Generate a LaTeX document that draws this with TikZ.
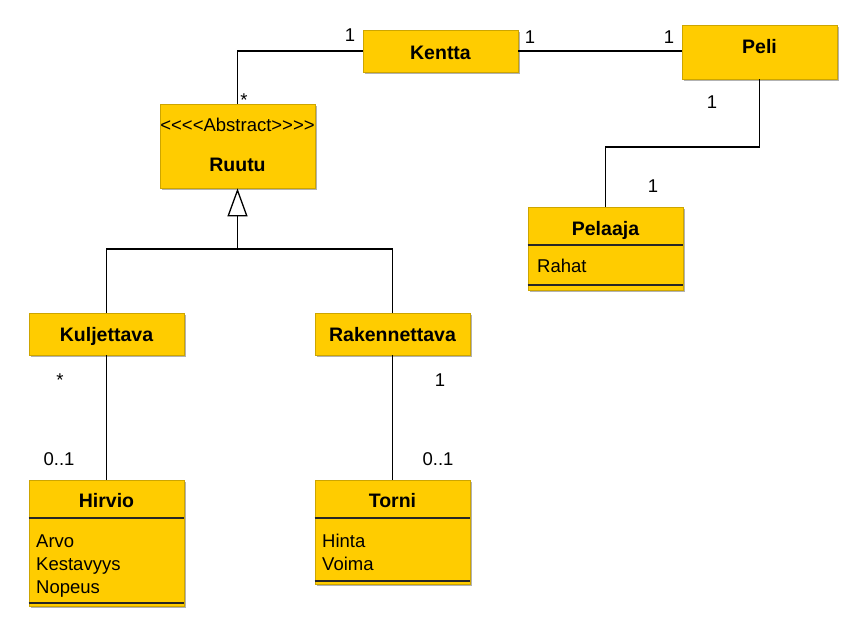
\documentclass[tikz,border=0pt]{standalone}
\usepackage{fontspec}
\setmainfont{Liberation Sans}
\usetikzlibrary{arrows.meta}
\definecolor{umlfill}{RGB}{255,204,0}
\definecolor{umledge}{RGB}{205,165,0}
\tikzset{
 box/.style={draw=umledge, line width=0.8pt, fill=umlfill, inner sep=0pt, minimum width=155pt,
   preaction={fill=black!30, transform canvas={xshift=2pt,yshift=-2pt}}},
 ttl/.style={anchor=base, inner sep=0pt, font=\fontsize{19.5}{23}\selectfont\bfseries},
 attr/.style={anchor=base west, inner sep=0pt, font=\fontsize{18.5}{22}\selectfont},
 mult/.style={anchor=base, inner sep=0pt, font=\fontsize{18.5}{22}\selectfont},
 conn/.style={line width=1.3pt, black},
 sep/.style={line width=1.3pt, black!85},
}
\begin{document}
\begin{tikzpicture}[x=1pt,y=-1pt]
\useasboundingbox (0,0) rectangle (849,616);
% boxes
\node[box, minimum height=42pt] (kentta) at (440.5,51) {};
\node[ttl] (kenttat) at (440.5,59) {Kentta};
\node[box, minimum height=54pt] (peli) at (759.5,52) {};
\node[ttl] (pelit) at (759.5,53) {Peli};
\node[box, minimum height=84pt] (ruutu) at (237.5,146) {};
\node[mult] (ruutuabs) at (237.5,131) {<{}<{}<{}<{}Abstract>{}>{}>{}>};
\node[ttl] (ruutut) at (237.5,171) {Ruutu};
\node[box, minimum height=42pt] (kuljettava) at (106.5,334) {};
\node[ttl] (kuljettavat) at (106.5,341) {Kuljettava};
\node[box, minimum height=42pt] (rakennettava) at (392.5,334) {};
\node[ttl] (rakennettavat) at (392.5,341) {Rakennettava};
\node[box, minimum height=83pt] (pelaaja) at (605.5,248.5) {};
\node[ttl] (pelaajat) at (605.5,235) {Pelaaja};
\draw[sep] (pelaaja.west |- 0,245) -- (pelaaja.east |- 0,245);
\node[attr] (rahat) at (537,272) {Rahat};
\draw[sep] (pelaaja.west |- 0,285) -- (pelaaja.east |- 0,285);
\node[box, minimum height=126pt] (hirvio) at (106.5,543) {};
\node[ttl] (hirviot) at (106.5,507) {Hirvio};
\draw[sep] (hirvio.west |- 0,518) -- (hirvio.east |- 0,518);
\node[attr] (arvo) at (36,547) {Arvo};
\node[attr] (kestavyys) at (36,570) {Kestavyys};
\node[attr] (nopeus) at (36,593) {Nopeus};
\draw[sep] (hirvio.west |- 0,603) -- (hirvio.east |- 0,603);
\node[box, minimum height=104pt] (torni) at (392.5,532) {};
\node[ttl] (tornit) at (392.5,507) {Torni};
\draw[sep] (torni.west |- 0,518) -- (torni.east |- 0,518);
\node[attr] (hinta) at (322,547) {Hinta};
\node[attr] (voima) at (322,570) {Voima};
\draw[sep] (torni.west |- 0,581) -- (torni.east |- 0,581);
% connectors
\draw[conn] (kentta.east) -- (peli.west |- kentta.east);
\draw[conn] (kentta.west) -| (ruutu.north);
\coordinate (pbend) at (605.5,147);
\draw[conn] (peli.south) |- (pbend) -- (pelaaja.north);
\coordinate (gen) at (237.5,249);
\draw[conn] (kuljettava.north) |- (gen) -| (rakennettava.north);
\draw[conn, -{Triangle[open, length=28pt, width=20pt, fill=white]}] (gen) -- (ruutu.south);
\draw[conn] (kuljettava.south) -- (hirvio.north);
\draw[conn] (rakennettava.south) -- (torni.north);
% multiplicities
\node[mult] (m1) at (350,41) {1};
\node[mult] (m2) at (244,106) {*};
\node[mult] (m3) at (530,43) {1};
\node[mult] (m4) at (669,43) {1};
\node[mult] (m5) at (712,108) {1};
\node[mult] (m6) at (653,192) {1};
\node[mult] (m7) at (60,386) {*};
\node[mult] (m8) at (59,465) {0..1};
\node[mult] (m9) at (440,386) {1};
\node[mult] (m10) at (438,465) {0..1};
\end{tikzpicture}
\end{document}
